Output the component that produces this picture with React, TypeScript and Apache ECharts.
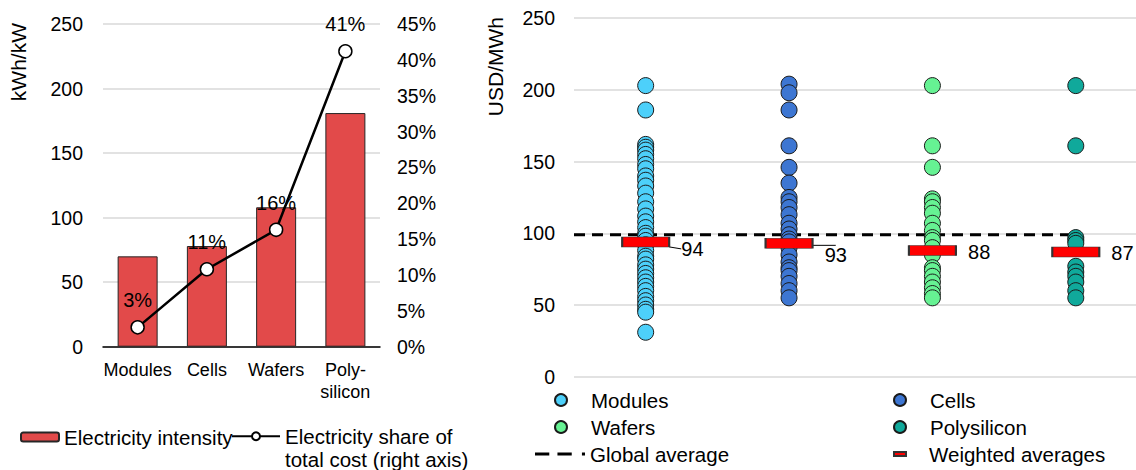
import React, { useEffect, useRef } from "react";
import * as echarts from "echarts";

// ---------- Left chart data ----------
const STAGES = ["Modules", "Cells", "Wafers", "Poly-\nsilicon"];
const ELECTRICITY_INTENSITY = [70, 78, 108, 181]; // kWh/kW
const ELECTRICITY_SHARE = [2.7, 10.8, 16.3, 41.2]; // % of total cost
const INTENSITY_NAME = "Electricity intensity";
const SHARE_NAME = "Electricity share of\ntotal cost (right axis)";

// ---------- Right chart data ----------
const COST_CATEGORIES = ["Modules", "Cells", "Wafers", "Polysilicon"];
const MODULES_COSTS = [203, 186, 162, 160, 158, 155, 152, 148, 145, 140, 137, 133, 128, 122, 117, 112, 108, 104, 100, 98, 95, 92, 88, 84, 82, 78, 75, 72, 69, 66, 63, 60, 56, 53, 50, 47, 45, 31];
const CELLS_COSTS = [204, 198, 186, 161, 146, 135, 125, 122, 118, 113, 107, 103, 99, 96, 94, 90, 85, 80, 76, 74, 70, 65, 60, 55];
const WAFERS_COSTS = [203, 161, 146, 124, 122, 118, 114, 107, 102, 97, 95, 90, 85, 76, 74, 70, 66, 62, 58, 55];
const POLYSILICON_COSTS = [203, 161, 97, 95, 93, 77, 73, 70, 66, 60, 55];
const WEIGHTED_AVERAGES = [94, 93, 88, 87];
const GLOBAL_AVERAGE = 99;

const FONT = "'Liberation Sans', Arial, sans-serif";
const TXT = "#000";
const GRID_GRAY = "#d9d9d9";

const DOT_COLORS = ["#4DD0FA", "#3D76D2", "#66F293", "#10A99B"];
const COST_SERIES = [MODULES_COSTS, CELLS_COSTS, WAFERS_COSTS, POLYSILICON_COSTS];
const LABEL_DY = [7, 12, 1, 1];

const TICK_FS = 19.5;
const LEG_FS = 20.5;

export default function App() {
  const ref = useRef<HTMLDivElement>(null);

  useEffect(() => {
    if (!ref.current) return;
    const chart = echarts.init(ref.current, undefined, { renderer: "svg" });
    const xMin = -0.5;

    const scatterSeries = COST_CATEGORIES.map((name, ci) => ({
      type: "scatter",
      name,
      xAxisIndex: 1,
      yAxisIndex: 2,
      symbol: "circle",
      symbolSize: 16,
      itemStyle: { color: DOT_COLORS[ci], borderColor: "#1a1a1a", borderWidth: 1, opacity: 1 },
      data: COST_SERIES[ci].map((v) => [ci, v]),
      z: 3,
    }));

    const legText = { fontSize: LEG_FS, color: TXT, lineHeight: 22, fontFamily: FONT };
    const oneLegend = (name: string, left: number, top: number, extra: any = {}) => ({
      left,
      top,
      itemWidth: 50,
      itemHeight: 12,
      textStyle: legText,
      data: [name],
      ...extra,
    });

    const option: any = {
      animation: false,
      textStyle: { fontFamily: FONT, color: TXT },
      grid: [
        { left: 103, right: 756, top: 24, bottom: 123.3 },
        { left: 574, right: 0, top: 18.2, bottom: 93.3 },
      ],
      xAxis: [
        {
          type: "category",
          gridIndex: 0,
          data: STAGES,
          axisTick: { show: false },
          axisLine: { lineStyle: { color: "#000", width: 1.5 } },
          axisLabel: { interval: 0, fontSize: 18, color: TXT, margin: 12, lineHeight: 22, fontFamily: FONT },
        },
        {
          type: "value",
          gridIndex: 1,
          min: xMin,
          max: 3.42,
          show: false,
          splitLine: { show: false },
        },
      ],
      yAxis: [
        {
          type: "value",
          gridIndex: 0,
          min: 0,
          max: 250,
          interval: 50,
          axisLine: { show: false },
          axisTick: { show: false },
          splitLine: { lineStyle: { color: GRID_GRAY, width: 1.5 } },
          axisLabel: { fontSize: TICK_FS, color: TXT, margin: 20, fontFamily: FONT },
        },
        {
          type: "value",
          gridIndex: 0,
          position: "right",
          min: 0,
          max: 45,
          interval: 5,
          axisLine: { show: false },
          axisTick: { show: false },
          splitLine: { show: false },
          axisLabel: { fontSize: TICK_FS, color: TXT, margin: 17, formatter: "{value}%", fontFamily: FONT },
        },
        {
          type: "value",
          gridIndex: 1,
          min: 0,
          max: 250,
          interval: 50,
          axisLine: { show: false },
          axisTick: { show: false },
          splitLine: { lineStyle: { color: GRID_GRAY, width: 1.5 } },
          axisLabel: { fontSize: TICK_FS, color: TXT, margin: 19, fontFamily: FONT },
        },
      ],
      legend: [
        {
          left: 15,
          top: 420,
          itemWidth: 38,
          itemHeight: 9,
          textStyle: { ...legText, lineHeight: 24 },
          data: [INTENSITY_NAME],
        },
        {
          left: 226,
          top: 396,
          itemWidth: 48,
          itemHeight: 10,
          textStyle: { ...legText, lineHeight: 23.5 },
          formatter: (name: string) => "\n" + name,
          data: [SHARE_NAME],
        },
        oneLegend("Modules", 549, 384),
        oneLegend("Wafers", 549, 411),
        oneLegend("Global average", 530, 438, {
          data: [
            {
              name: "Global average",
              icon: "path://M1,0H15V3H1Z M23,0H37V3H23Z M47,0H50V3H47Z",
            },
          ],
        }),
        oneLegend("Cells", 888, 384),
        oneLegend("Polysilicon", 888, 411),
        {
          left: 888,
          top: 438,
          itemWidth: 12,
          itemHeight: 4,
          textStyle: { ...legText, padding: [0, 0, 0, 18] },
          data: ["Weighted averages"],
        },
      ],
      graphic: [
        {
          type: "text",
          x: 18,
          y: 23,
          rotation: Math.PI / 2,
          style: { text: "kWh/kW", fontSize: 21, fill: TXT, fontFamily: FONT, align: "right", verticalAlign: "middle" },
        },
        {
          type: "text",
          x: 495,
          y: 17,
          rotation: Math.PI / 2,
          style: { text: "USD/MWh", fontSize: 21, fill: TXT, fontFamily: FONT, align: "right", verticalAlign: "middle" },
        },
      ],
      series: [
        {
          type: "bar",
          name: INTENSITY_NAME,
          xAxisIndex: 0,
          yAxisIndex: 0,
          barWidth: 40,
          itemStyle: { color: "#E24A4A", borderColor: "#262626", borderWidth: 1 },
          data: ELECTRICITY_INTENSITY,
        },
        {
          type: "line",
          name: SHARE_NAME,
          xAxisIndex: 0,
          yAxisIndex: 1,
          symbol: "circle",
          symbolSize: 13,
          itemStyle: { color: "#fff", borderColor: "#000", borderWidth: 1.5 },
          lineStyle: { color: "#000", width: 2.5 },
          label: {
            show: true,
            position: "top",
            distance: 10,
            fontSize: 20,
            color: TXT,
            fontFamily: FONT,
            formatter: (p: any) => Math.round(p.value) + "%",
          },
          data: ELECTRICITY_SHARE,
          z: 4,
        },
        {
          type: "line",
          name: "Global average",
          xAxisIndex: 1,
          yAxisIndex: 2,
          symbol: "none",
          itemStyle: { color: "#000" },
          lineStyle: { color: "#000", width: 3, type: [11, 7] },
          data: [
            [xMin, GLOBAL_AVERAGE],
            [COST_CATEGORIES.length - 1, GLOBAL_AVERAGE],
          ],
          z: 2,
        },
        ...scatterSeries,
        {
          type: "scatter",
          name: "Weighted averages",
          xAxisIndex: 1,
          yAxisIndex: 2,
          symbol: "rect",
          symbolSize: [47, 10],
          itemStyle: { color: "#FF0000", borderColor: "#333", borderWidth: 1, opacity: 1 },
          label: {
            show: true,
            position: "right",
            distance: 11,
            fontSize: 20,
            color: TXT,
            fontFamily: FONT,
            formatter: (p: any) => String(p.value[1]),
          },
          labelLayout: (p: any) => ({ dy: LABEL_DY[p.dataIndex] }),
          data: WEIGHTED_AVERAGES.map((v, i) => ({
            value: [i, v],
            labelLine: { show: i < 2, lineStyle: { color: "#000", width: 1 } },
          })),
          z: 5,
        },
      ],
    };

    chart.setOption(option);
    return () => chart.dispose();
  }, []);

  return (
    <div
      ref={ref}
      style={{ position: "absolute", left: 0, top: 0, width: 1136, height: 470, background: "#fff" }}
    />
  );
}
